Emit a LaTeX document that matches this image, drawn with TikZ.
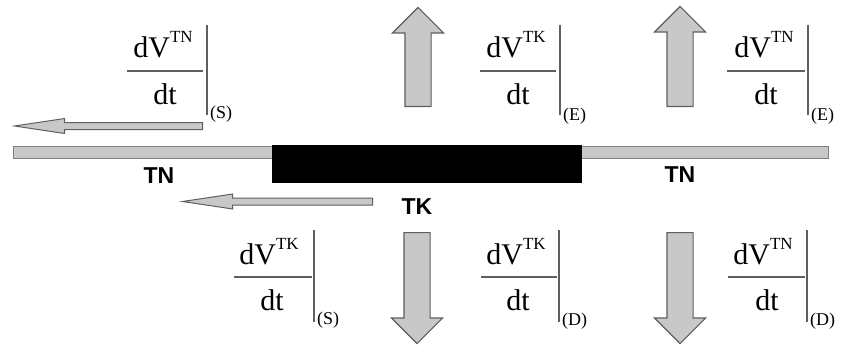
\documentclass[tikz,border=0pt]{standalone}
\usepackage{fontspec}
\setmainfont{Liberation Serif}
\newfontfamily\labelfont{Liberation Sans}
\usepackage{tikz}
\usetikzlibrary{shapes.arrows}
\definecolor{fillgray}{RGB}{200,200,200}
\definecolor{edgegray}{RGB}{95,95,95}
\newcommand{\supfont}{\fontsize{17}{20}\selectfont}
\tikzstyle{blockarrow} = [draw=edgegray, line width=1.2pt, fill=fillgray, single arrow, inner sep=0pt, inner ysep=12.5pt, single arrow head extend=12.5pt, minimum width=0pt, anchor=tail]
\tikzstyle{slimarrow} = [draw=edgegray, line width=1pt, fill=fillgray, single arrow, inner sep=0pt, inner ysep=3pt, single arrow head extend=4pt, single arrow tip angle=17, minimum width=0pt, anchor=tail]
\tikzstyle{num} = [font=\fontsize{30}{36}\selectfont, anchor=base, inner sep=0pt]
\tikzstyle{subs} = [font=\fontsize{18}{21}\selectfont, anchor=west, inner sep=0pt]
\tikzstyle{lab} = [font=\labelfont\bfseries\fontsize{23}{27}\selectfont]
\tikzstyle{rule} = [draw=edgegray, line width=1.5pt]

\begin{document}
\begin{tikzpicture}[x=1pt,y=-1pt]
    \useasboundingbox (0,0) rectangle (841,345);

        \draw[draw=gray, fill=fillgray, line width=1pt] (13,146) rectangle (828,158);
        \fill[black] (272,145) rectangle (582,183);
        \node[lab] (TNl) at (159,176) {TN};
        \node[lab] (TNr) at (680,175) {TN};
        \node[lab] (TK) at (417,207) {TK};

        \node[blockarrow, minimum height=99pt, rotate=90] (UpTK) at (418,107) {};
        \node[blockarrow, minimum height=100pt, rotate=90] (UpTN) at (680,107) {};
        \node[blockarrow, minimum height=111pt, rotate=-90] (DnTK) at (417,232) {};
        \node[blockarrow, minimum height=111pt, rotate=-90] (DnTN) at (680,232) {};
        \node[slimarrow, minimum height=188pt, rotate=180] (LfTN) at (203,126) {};
        \node[slimarrow, minimum height=190pt, rotate=180] (LfTK) at (373,201.5) {};

    % rates above the fibre
        \node[num] (nTNS) at (163,58) {dV\raisebox{15pt}{\supfont TN}};
        \node[num] (dTNS) at (165,104) {dt};
        \draw[rule] (127,71) -- (203,71);
        \draw[rule] (207,25) -- (207,115);
        \node[subs] (sTNS) at (210,114) {(S)};

        \node[num] (nTKE) at (516,58) {dV\raisebox{15pt}{\supfont TK}};
        \node[num] (dTKE) at (518,104) {dt};
        \draw[rule] (480,71) -- (556,71);
        \draw[rule] (560,25) -- (560,115);
        \node[subs] (sTKE) at (563,116) {(E)};

        \node[num] (nTNE) at (764,58) {dV\raisebox{15pt}{\supfont TN}};
        \node[num] (dTNE) at (766,104) {dt};
        \draw[rule] (727,71) -- (805,71);
        \draw[rule] (808,25) -- (808,115);
        \node[subs] (sTNE) at (811,116) {(E)};

    % rates below the fibre
        \node[num] (nTKS) at (269,264) {dV\raisebox{15pt}{\supfont TK}};
        \node[num] (dTKS) at (272,310) {dt};
        \draw[rule] (234,277) -- (312,277);
        \draw[rule] (314,230) -- (314,322);
        \node[subs] (sTKS) at (317,320) {(S)};

        \node[num] (nTKD) at (516,264) {dV\raisebox{15pt}{\supfont TK}};
        \node[num] (dTKD) at (518,310) {dt};
        \draw[rule] (481,277) -- (557,277);
        \draw[rule] (559,230) -- (559,322);
        \node[subs] (sTKD) at (562,321) {(D)};

        \node[num] (nTND) at (763,264) {dV\raisebox{15pt}{\supfont TN}};
        \node[num] (dTND) at (767,310) {dt};
        \draw[rule] (728,277) -- (805,277);
        \draw[rule] (807,230) -- (807,322);
        \node[subs] (sTND) at (810,321) {(D)};

    \end{tikzpicture}
\end{document}
